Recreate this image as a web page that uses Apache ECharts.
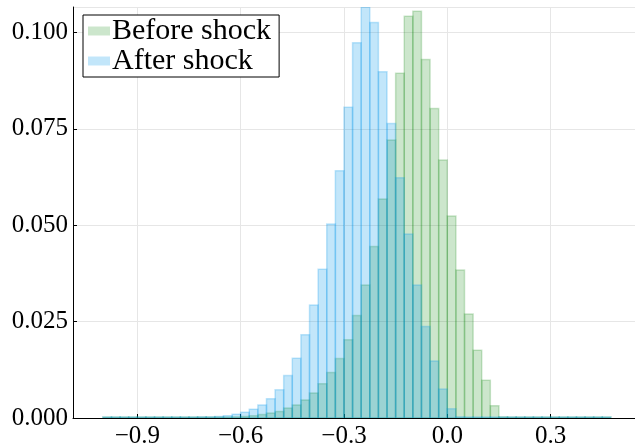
<!DOCTYPE html>
<html>
<head>
<meta charset="utf-8">
<script src="https://cdn.jsdelivr.net/npm/echarts@6/dist/echarts.min.js"></script>
<style>html,body{margin:0;padding:0;background:#fff;}#c{width:635px;height:446px;}</style>
</head>
<body>
<div id="c"></div>
<script>
// Bin edges (probability histogram, bin width 0.025)
const binEdges = [-1.0,-0.975,-0.95,-0.925,-0.9,-0.875,-0.85,-0.825,-0.8,-0.775,-0.75,-0.725,-0.7,-0.675,-0.65,-0.625,-0.6,-0.575,-0.55,-0.525,-0.5,-0.475,-0.45,-0.425,-0.4,-0.375,-0.35,-0.325,-0.3,-0.275,-0.25,-0.225,-0.2,-0.175,-0.15,-0.125,-0.1,-0.075,-0.05,-0.025,0.0,0.025,0.05,0.075,0.1,0.125,0.15,0.175,0.2,0.225,0.25,0.275,0.3,0.325,0.35,0.375,0.4,0.425,0.45,0.475];
const beforeShock = [0,0,0,0,0,0,0,0,0,0,0,0,
  0.0001,0.0001,0.0002,0.0003,0.0004,0.0006,0.0009,0.0013,0.0017,0.0026,0.0034,0.0047,0.0065,0.0089,0.0118,0.0154,0.0203,0.0266,0.0345,0.0445,0.0568,0.0721,0.0894,0.1042,0.1055,0.0930,0.0803,0.0669,0.0524,0.0384,0.0270,0.0176,0.0098,0.0032,0.0003,
  0,0,0,0,0,0,0,0,0,0,0,0];
const afterShock = [0.0001,0.0001,0.0001,0.0001,0.0001,0.0001,0.0001,0.0001,0.0002,0.0002,0.0002,0.0003,0.0003,0.0004,0.0006,0.0010,0.0015,0.0023,0.0034,0.0050,0.0073,0.0110,0.0155,0.0216,0.0293,0.0386,0.0503,0.0641,0.0806,0.0973,0.1066,0.1026,0.0898,0.0764,0.0623,0.0477,0.0345,0.0237,0.0148,0.0075,0.0024,0.0003,
  0,0,0,0,0,0,0,0,0,0,0,0,0,0,0,0,0];
const seriesNames = ['Before shock', 'After shock'];
const xTicks = [-0.9, -0.6, -0.3, 0.0, 0.3];

const colors = ['rgba(0,128,0,0.2)', 'rgba(0,150,235,0.24)'];

function toData(vals) {
  return vals.map((v, i) => [binEdges[i], binEdges[i + 1], v]);
}
function renderBar(params, api) {
  const p0 = api.coord([api.value(0), api.value(2)]);
  const p1 = api.coord([api.value(1), 0]);
  let h = p1[1] - p0[1];
  if (h < 1) h = 1;
  return {
    type: 'rect',
    shape: { x: p0[0], y: p1[1] - h, width: p1[0] - p0[0], height: h },
    style: { fill: api.visual('color'), stroke: api.visual('color'), lineWidth: 1.5 }
  };
}
const font = '"Liberation Serif", "Times New Roman", serif';
const fmtX = v => (Math.abs(v) < 1e-9 ? 0 : v).toFixed(1).replace('-', '\u2212');

const chart = echarts.init(document.getElementById('c'), null, { renderer: 'canvas' });
chart.setOption({
  animation: false,
  backgroundColor: '#fff',
  grid: { left: 73, right: 0, top: 7, bottom: 28, containLabel: false, outerBoundsMode: 'none' },
  legend: {
    orient: 'vertical', left: 83, top: 15,
    padding: [1, 8, 1, 5], itemGap: 0,
    itemWidth: 22, itemHeight: 9,
    backgroundColor: '#fff', borderColor: '#000', borderWidth: 1, borderRadius: 0,
    textStyle: { fontFamily: font, fontSize: 30, color: '#000', lineHeight: 30, padding: [0, 0, 0, -3] },
    data: [
      { name: seriesNames[0], icon: 'rect', itemStyle: { color: colors[0] } },
      { name: seriesNames[1], icon: 'rect', itemStyle: { color: colors[1] } }
    ]
  },
  xAxis: {
    type: 'value', min: -1.0867, max: 0.545,
    axisLine: { show: true, onZero: false, lineStyle: { color: '#000', width: 1 } },
    axisTick: { show: true, inside: true, length: 4, customValues: xTicks, lineStyle: { color: '#000' } },
    axisLabel: { customValues: xTicks, formatter: fmtX, fontFamily: font, fontSize: 25, color: '#000', margin: 6 },
    splitLine: { show: false }
  },
  yAxis: {
    type: 'value', min: 0, max: 0.1066, interval: 0.025,
    axisLine: { show: true, onZero: false, lineStyle: { color: '#000', width: 1 } },
    axisTick: { show: true, inside: true, length: 4, lineStyle: { color: '#000' } },
    axisLabel: { formatter: v => v.toFixed(3), fontFamily: font, fontSize: 25, color: '#000', margin: 5, showMaxLabel: false },
    splitLine: { show: true, lineStyle: { color: '#e6e6e6', width: 1 } }
  },
  series: [
    {
      name: seriesNames[0], type: 'custom', renderItem: renderBar, clip: true,
      itemStyle: { color: colors[0] }, encode: { x: [0, 1], y: 2 },
      data: toData(beforeShock), z: 2,
      markLine: {
        silent: true, symbol: 'none', label: { show: false },
        lineStyle: { color: '#e6e6e6', width: 1, type: 'solid' },
        data: xTicks.map(t => ({ xAxis: t })), z: 0
      }
    },
    {
      name: seriesNames[1], type: 'custom', renderItem: renderBar, clip: true,
      itemStyle: { color: colors[1] }, encode: { x: [0, 1], y: 2 },
      data: toData(afterShock), z: 3
    }
  ]
});
</script>
</body>
</html>
